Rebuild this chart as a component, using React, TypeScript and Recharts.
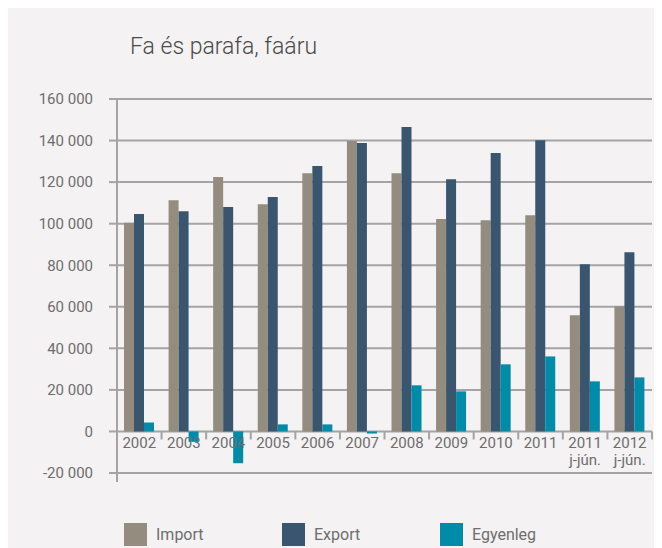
import React from 'react';
import { BarChart, Bar, XAxis, YAxis, CartesianGrid, Legend } from 'recharts';

const categories = ['2002', '2003', '2004', '2005', '2006', '2007', '2008', '2009', '2010', '2011', '2011 j-jún.', '2012 j-jún.'];
const seriesNames = ['Import', 'Export', 'Egyenleg'];
const importValues = [100400, 111300, 122400, 109400, 124300, 139800, 124300, 102200, 101700, 104100, 55900, 60200];
const exportValues = [104600, 106000, 108000, 112800, 127700, 138800, 146500, 121400, 134000, 140200, 80500, 86300];
const balanceValues = [4300, -5000, -15300, 3400, 3400, -1000, 22200, 19300, 32300, 36100, 24100, 26000];
const yTicks = [-20000, 0, 20000, 40000, 60000, 80000, 100000, 120000, 140000, 160000];

const data = categories.map((c, i) => ({
  name: c,
  Import: importValues[i],
  Export: exportValues[i],
  Egyenleg: balanceValues[i],
}));

const W = 654;
const H = 540;
const TOP = 91;
const LEFT = 109;
const RIGHT = 10;
const PLOT_H = 374;
const PLOT_W = W - LEFT - RIGHT;
const BAND = PLOT_W / categories.length;
const Y_MIN = -20000;
const Y_MAX = 160000;
const ZERO_Y = TOP + (PLOT_H * Y_MAX) / (Y_MAX - Y_MIN);
const PLOT_BOTTOM = TOP + PLOT_H;

const GRID = '#a4a4a4';
const TEXT = '#6e6e6e';
const FONT = 'Roboto, "Noto Sans", sans-serif';

const fmt = (v: number) => {
  const s = Math.abs(v).toString().replace(/\B(?=(\d{3})+(?!\d))/g, ' ');
  return v < 0 ? '-' + s : s;
};

const XTick = (props: any) => {
  const { x, index, payload } = props;
  const lines = String(payload.value).split(' ');
  const half = BAND / 2;
  return (
    <g>
      <line x1={x + half} x2={x + half} y1={ZERO_Y} y2={ZERO_Y + 8} stroke={GRID} strokeWidth={2} />
      {index === 0 && (
        <line x1={x - half} x2={x - half} y1={PLOT_BOTTOM} y2={PLOT_BOTTOM + 9} stroke={GRID} strokeWidth={2} />
      )}
      <text x={x} y={ZERO_Y + 17} textAnchor="middle" fill={TEXT} fontSize={15} fontFamily={FONT}>
        {lines.map((l, i) => (
          <tspan key={i} x={x} dy={i === 0 ? 0 : 17}>
            {l}
          </tspan>
        ))}
      </text>
    </g>
  );
};

const LegendContent = (props: any) => {
  const items = [...(props.payload || [])].sort(
    (a: any, b: any) => seriesNames.indexOf(a.value) - seriesNames.indexOf(b.value)
  );
  return (
    <div style={{ display: 'flex', fontFamily: FONT }}>
      {items.map((p: any) => (
        <div key={p.value} style={{ width: 158, display: 'flex', alignItems: 'center' }}>
          <div style={{ width: 23, height: 23, background: p.color }} />
          <span style={{ marginLeft: 9, fontSize: 16, color: TEXT }}>{p.value}</span>
        </div>
      ))}
    </div>
  );
};

export default function App() {
  return (
    <div style={{ position: 'relative', width: W, height: H, background: '#f4f2f3' }}>
      <div
        style={{
          position: 'absolute',
          left: 122,
          top: 25,
          fontFamily: FONT,
          fontWeight: 300,
          fontSize: 23,
          color: '#4a4a4a',
        }}
      >
        Fa és parafa, faáru
      </div>
      <BarChart
        width={W}
        height={H}
        data={data}
        margin={{ top: TOP, right: RIGHT, left: 0, bottom: 45 }}
        barGap={0}
        barSize={10}
        style={{ position: 'absolute', left: 0, top: 0 }}
      >
        <CartesianGrid vertical={false} stroke={GRID} strokeWidth={2} />
        <YAxis
          width={LEFT}
          domain={[Y_MIN, Y_MAX]}
          ticks={yTicks}
          interval={0}
          tickFormatter={fmt}
          axisLine={{ stroke: GRID, strokeWidth: 2 }}
          tickLine={{ stroke: GRID, strokeWidth: 2 }}
          tickSize={8}
          tickMargin={16}
          tick={{ fill: TEXT, fontSize: 15, fontFamily: FONT }}
        />
        <XAxis dataKey="name" height={30} interval={0} axisLine={false} tickLine={false} tick={<XTick />} />
        <Legend
          verticalAlign="middle"
          align="center"
          layout="horizontal"
          content={<LegendContent />}
          wrapperStyle={{ top: 515, left: 116, width: 500 }}
        />
        <Bar dataKey="Import" fill="#958c80" isAnimationActive={false} />
        <Bar dataKey="Export" fill="#3a566f" isAnimationActive={false} />
        <Bar dataKey="Egyenleg" fill="#008ca8" isAnimationActive={false} />
      </BarChart>
    </div>
  );
}
